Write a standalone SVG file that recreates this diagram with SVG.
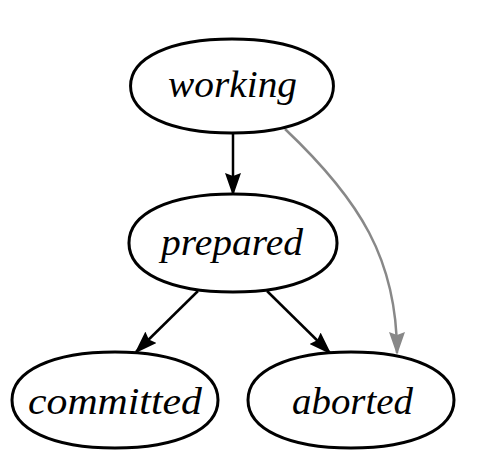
<svg xmlns="http://www.w3.org/2000/svg" xmlns:xlink="http://www.w3.org/1999/xlink" width="478" height="466" viewBox="0 0 478 466">
<style>
.node{fill:#fff;stroke:#000;stroke-width:3}
.lbl{font-family:"Liberation Serif","Times New Roman",serif;font-style:italic;font-size:38px;fill:#000;text-anchor:start}
.edge{fill:none;stroke:#000;stroke-width:2.5}
.gray{fill:none;stroke:#888;stroke-width:2.5}
</style>
<defs>
<path id="shape" d="M -103,0 C -103,-29 -63,-48 0,-48 C 63,-48 103,-29 103,0 C 103,29 63,48 0,48 C -63,48 -103,29 -103,0 Z"/>
<marker id="ah" markerUnits="userSpaceOnUse" markerWidth="23" markerHeight="16" viewBox="0 0 23 16" refX="21" refY="8" orient="auto">
<path d="M0,0 L23,8 L0,16 L3,8 Z" fill="#000"/>
</marker>
<marker id="ahg" markerUnits="userSpaceOnUse" markerWidth="23" markerHeight="16" viewBox="0 0 23 16" refX="21" refY="8" orient="auto">
<path d="M0,0 L23,8 L0,16 L3,8 Z" fill="#888"/>
</marker>
</defs>
<g id="connectors">
<path class="edge" d="M 233 133 L 233 194" marker-end="url(#ah)"/>
<path class="edge" d="M 198 291 L 136 352" marker-end="url(#ah)"/>
<path class="edge" d="M 267 291 L 330 353" marker-end="url(#ah)"/>
<path class="gray" d="M 285 129 C 360 200 397 260 397 353" marker-end="url(#ahg)"/>
</g>
<g id="working">
<use xlink:href="#shape" href="#shape" class="node" transform="translate(232,86) scale(0.985,0.98)"/>
<text class="lbl" x="168" y="97" textLength="129" lengthAdjust="spacingAndGlyphs">working</text>
</g>
<g id="prepared">
<use xlink:href="#shape" href="#shape" class="node" transform="translate(233,243) scale(1.01,1.02)"/>
<text class="lbl" x="161" y="255" textLength="142" lengthAdjust="spacingAndGlyphs">prepared</text>
</g>
<g id="committed">
<use xlink:href="#shape" href="#shape" class="node" transform="translate(115,400)"/>
<text class="lbl" x="28" y="414" textLength="174" lengthAdjust="spacingAndGlyphs">committed</text>
</g>
<g id="aborted">
<use xlink:href="#shape" href="#shape" class="node" transform="translate(351,400)"/>
<text class="lbl" x="292" y="414" textLength="121" lengthAdjust="spacingAndGlyphs">aborted</text>
</g>
</svg>
